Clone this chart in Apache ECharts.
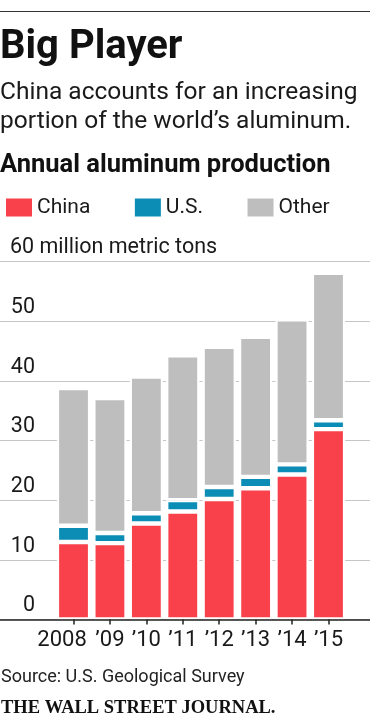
<!DOCTYPE html>
<html>
<head>
<meta charset="utf-8">
<style>
html,body{margin:0;padding:0;background:#fff;}
#chart{width:370px;height:720px;}
</style>
<script src="https://cdn.jsdelivr.net/npm/echarts@6/dist/echarts.min.js"></script>
</head>
<body>
<div id="chart"></div>
<script>
// ---- data ----
var categories = ['2008', '\u201909', '\u201910', '\u201911', '\u201912', '\u201913', '\u201914', '\u201915'];
var china = [13.0, 12.8, 16.1, 18.1, 20.2, 22.0, 24.3, 31.9];
var us = [2.7, 1.7, 1.7, 1.9, 2.0, 1.9, 1.7, 1.5];
var other = [23.1, 22.6, 22.9, 24.3, 23.5, 23.5, 24.3, 24.7];
var seriesNames = ['China', 'U.S.', 'Other'];
var yTicks = [0, 10, 20, 30, 40, 50, 60];
var yUnit = ' million metric tons';

var FONT = 'Roboto';
var colors = ['#f8414a', '#0b8db5', '#bebebe'];

var chart = echarts.init(document.getElementById('chart'), null, {renderer: 'canvas'});

var gridTop = 261.5, gridBottom = 100.5;

function barSeries(name, data, color) {
  return {
    name: name,
    type: 'bar',
    stack: 'total',
    xAxisIndex: 1,
    yAxisIndex: 1,
    data: data,
    barWidth: 33.2,
    itemStyle: {color: color, borderColor: '#ffffff', borderWidth: 2.2},
    emphasis: {disabled: true},
    silent: true,
    z: 2
  };
}

var option = {
  animation: false,
  backgroundColor: '#ffffff',
  color: colors,
  textStyle: {fontFamily: FONT},
  legend: {
    left: 1,
    top: 192,
    icon: 'rect',
    itemWidth: 26,
    itemHeight: 18,
    itemGap: 44.5,
    itemStyle: {borderWidth: 0},
    textStyle: {fontFamily: FONT, fontSize: 21, color: '#1a1a1a'},
    data: seriesNames,
    selectedMode: false
  },
  grid: [
    {left: 0, right: 0, top: gridTop, bottom: gridBottom, containLabel: false},
    {left: 55.3, right: 23.3, top: gridTop, bottom: gridBottom, containLabel: false}
  ],
  xAxis: [
    {
      type: 'value', gridIndex: 0, min: 0, max: 1, z: 10,
      axisLine: {show: true, lineStyle: {color: '#222', width: 1.5}},
      axisTick: {show: false}, axisLabel: {show: false}, splitLine: {show: false}
    },
    {
      type: 'category', gridIndex: 1,
      data: categories.map(function (c, i) {
        return i === 0 ? {value: c, textStyle: {padding: [0, 23, 0, 0]}} : c;
      }),
      axisLine: {show: false},
      axisTick: {show: true, alignWithLabel: true, length: 5, lineStyle: {color: '#222', width: 1.5}},
      axisLabel: {fontFamily: FONT, fontSize: 22, color: '#1a1a1a', margin: 10, interval: 0},
      splitLine: {show: false}, z: 10
    }
  ],
  yAxis: [
    {
      type: 'value', gridIndex: 0, min: yTicks[0], max: yTicks[yTicks.length - 1], interval: 10,
      axisLine: {show: false}, axisTick: {show: false},
      splitLine: {show: true, lineStyle: {color: '#c6c6c6', width: 1}},
      axisLabel: {
        inside: true, align: 'left', margin: 10, verticalAlign: 'middle',
        padding: [0, 0, 27, 0],
        fontFamily: FONT, fontSize: 21.5, color: '#1a1a1a',
        formatter: function (v) {
          if (v === yTicks[yTicks.length - 1]) return v + yUnit;
          return '{n|' + v + '}';
        },
        rich: {
          n: {width: 25, align: 'right', fontFamily: FONT, fontSize: 21.5, color: '#1a1a1a'}
        }
      }
    },
    {
      type: 'value', gridIndex: 1, min: yTicks[0], max: yTicks[yTicks.length - 1], show: false,
      splitLine: {show: false}
    }
  ],
  series: [
    barSeries(seriesNames[0], china, colors[0]),
    barSeries(seriesNames[1], us, colors[1]),
    barSeries(seriesNames[2], other, colors[2])
  ],
  graphic: [
    {type: 'line', shape: {x1: 0, y1: 11.5, x2: 370, y2: 11.5}, style: {stroke: '#333', lineWidth: 1}},
    {type: 'text', x: 0, y: 48, style: {text: 'Big Player', font: 'bold 40px ' + FONT, fill: '#111', verticalAlign: 'middle'}},
    {type: 'text', x: 0, y: 93, style: {text: 'China accounts for an increasing', font: '24.5px ' + FONT, fill: '#1a1a1a', verticalAlign: 'middle'}},
    {type: 'text', x: 0, y: 121.5, style: {text: 'portion of the world\u2019s aluminum.', font: '24.5px ' + FONT, fill: '#1a1a1a', verticalAlign: 'middle'}},
    {type: 'text', x: 0, y: 166, style: {text: 'Annual aluminum production', font: 'bold 25.5px ' + FONT, fill: '#111', verticalAlign: 'middle'}},
    {type: 'text', x: 1, y: 677, style: {text: 'Source: U.S. Geological Survey', font: '18px ' + FONT, fill: '#222', verticalAlign: 'middle'}},
    {type: 'text', x: 1, y: 708, style: {text: 'THE WALL STREET JOURNAL.', font: 'bold 18.5px "Liberation Serif", serif', fill: '#111', verticalAlign: 'middle'}}
  ]
};

chart.setOption(option);
</script>
</body>
</html>
